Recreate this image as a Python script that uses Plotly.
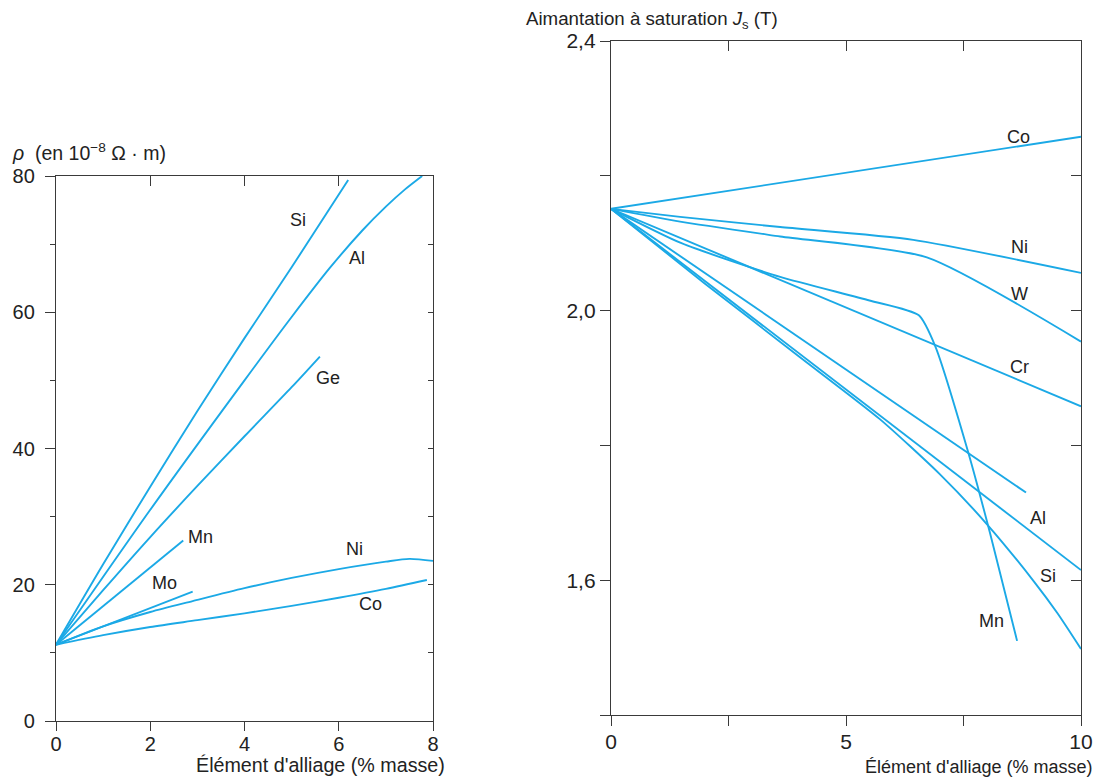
import plotly.graph_objects as go

# ---------------- Left chart: resistivity (1e-8 ohm.m) vs alloying element (% mass)
rho_si_x = [0, 1, 2, 3, 4, 5, 6.2]
rho_si_y = [11.2, 23, 34.4, 45.5, 56.2, 66.6, 79.4]
rho_al_x = [0, 2, 4, 5.0, 5.81, 6.5, 7.0, 7.4, 7.77]
rho_al_y = [11.2, 31, 50, 59.3, 66.5, 72, 75.5, 78, 80]
rho_ge_x = [0, 1, 2, 3, 4, 5, 5.6]
rho_ge_y = [11.2, 19.2, 27, 34.5, 41.8, 49, 53.5]
rho_mn_x = [0, 2.7]
rho_mn_y = [11.2, 26.5]
rho_mo_x = [0, 2.9]
rho_mo_y = [11.2, 19]
rho_ni_x = [0, 1, 2, 2.9, 4, 5, 6, 7, 7.5, 8.0]
rho_ni_y = [11.2, 13.9, 16.0, 17.6, 19.5, 21.0, 22.3, 23.4, 23.8, 23.5]
rho_co_x = [0, 1, 2, 3, 4, 5, 6, 7, 7.87]
rho_co_y = [11.2, 12.6, 13.8, 14.8, 15.8, 16.9, 18.1, 19.4, 20.7]

# ---------------- Right chart: saturation magnetisation Js (T)
js_co_x = [0, 10]
js_co_y = [2.151, 2.258]
js_ni_x = [0, 1.47, 3.6, 6.43, 10]
js_ni_y = [2.151, 2.139, 2.124, 2.105, 2.056]
js_w_x = [0, 1.47, 3.6, 6.72, 10]
js_w_y = [2.151, 2.132, 2.11, 2.079, 1.954]
js_cr_x = [0, 10]
js_cr_y = [2.151, 1.858]
js_mn_x = [0, 1.5, 3.6, 5.5, 6.55, 6.9, 7.6, 8.06, 8.64]
js_mn_y = [2.151, 2.10, 2.05, 2.015, 1.993, 1.947, 1.79, 1.671, 1.51]
js_unl_x = [0, 8.83]
js_unl_y = [2.151, 1.730]
js_al_x = [0, 10]
js_al_y = [2.151, 1.615]
js_si_x = [0, 2, 4, 5.72, 7, 8, 9, 9.5, 10]
js_si_y = [2.151, 2.04, 1.932, 1.839, 1.757, 1.683, 1.598, 1.551, 1.498]

# curve labels (text, x, y) in data units
left_labels = [("Si", 5.14, 73.5), ("Al", 6.39, 68.0), ("Ge", 5.77, 50.3), ("Mn", 3.06, 27.0),
               ("Mo", 2.31, 20.3), ("Ni", 6.34, 25.2), ("Co", 6.68, 17.2)]
right_labels = [("Co", 8.66, 2.258), ("Ni", 8.7, 2.095), ("W", 8.7, 2.024), ("Cr", 8.7, 1.916),
                ("Al", 9.08, 1.693), ("Si", 9.3, 1.606), ("Mn", 8.1, 1.539)]

LINE = "#1BA9E6"
AX = "#3a3a3a"
FONT = "Liberation Sans, Arial, sans-serif"
W, H = 1094, 771
OFF = 8  # page body margin


def px(xpix):
    return (xpix - OFF) / W


def py(ypix):
    return 1 - (ypix - OFF) / H


fig = go.Figure()

left_series = [
    (rho_si_x, rho_si_y, "Si"), (rho_al_x, rho_al_y, "Al"), (rho_ge_x, rho_ge_y, "Ge"),
    (rho_mn_x, rho_mn_y, "Mn"), (rho_mo_x, rho_mo_y, "Mo"), (rho_ni_x, rho_ni_y, "Ni"),
    (rho_co_x, rho_co_y, "Co"),
]
for xs, ys, nm in left_series:
    fig.add_trace(go.Scatter(x=xs, y=ys, mode="lines", name=nm, xaxis="x", yaxis="y",
                             line=dict(color=LINE, width=1.9, shape="spline", smoothing=0.8),
                             showlegend=False))

right_series = [
    (js_co_x, js_co_y, "Co", "linear"), (js_ni_x, js_ni_y, "Ni", "spline"),
    (js_w_x, js_w_y, "W", "spline"), (js_cr_x, js_cr_y, "Cr", "linear"),
    (js_mn_x, js_mn_y, "Mn", "spline"), (js_unl_x, js_unl_y, "", "linear"),
    (js_al_x, js_al_y, "Al", "linear"), (js_si_x, js_si_y, "Si", "spline"),
]
for xs, ys, nm, shp in right_series:
    fig.add_trace(go.Scatter(x=xs, y=ys, mode="lines", name=nm, xaxis="x2", yaxis="y2",
                             line=dict(color=LINE, width=1.9, shape=shp,
                                       **({"smoothing": 0.6} if shp == "spline" else {})),
                             showlegend=False))

# invisible traces to anchor the mirror axes
fig.add_trace(go.Scatter(x=[None], y=[None], xaxis="x3", yaxis="y3", showlegend=False))
fig.add_trace(go.Scatter(x=[None], y=[None], xaxis="x4", yaxis="y4", showlegend=False))

L_dom_x = [px(56), px(433)]
L_dom_y = [py(721), py(176)]
R_dom_x = [px(611), px(1081)]
R_dom_y = [py(715), py(41)]

tickL = dict(family=FONT, size=20, color="#222")
tickR = dict(family=FONT, size=21, color="#222")
common = dict(showgrid=False, zeroline=False, showline=True, linecolor=AX, linewidth=1.3,
              tickcolor=AX, tickwidth=1.3, automargin=False)

fig.update_layout(
    width=W, height=H, margin=dict(l=0, r=0, t=0, b=0),
    paper_bgcolor="white", plot_bgcolor="white",
    xaxis=dict(domain=L_dom_x, range=[0, 8], anchor="y", ticks="outside", ticklen=9,
               tickvals=[0, 2, 4, 6, 8], tickfont=tickL, ticklabelstandoff=-4, **common),
    yaxis=dict(domain=L_dom_y, range=[0, 80], anchor="x", ticks="outside", ticklen=10,
               tickvals=[0, 20, 40, 60, 80], tickfont=tickL, ticklabelstandoff=6,
               minor=dict(tickvals=[10, 30, 50, 70], ticks="outside", ticklen=5,
                          tickcolor=AX, tickwidth=1.3), **common),
    xaxis3=dict(domain=L_dom_x, range=[0, 8], anchor="y3", overlaying="x", side="top",
                ticks="inside", ticklen=10, tickvals=[2, 4, 6], showticklabels=False, **common),
    yaxis3=dict(domain=L_dom_y, range=[0, 80], anchor="x3", overlaying="y", side="right",
                ticks="inside", ticklen=5, tickvals=[10, 20, 30, 40, 50, 60, 70],
                showticklabels=False, **common),
    xaxis2=dict(domain=R_dom_x, range=[0, 10], anchor="y2", ticks="outside", ticklen=10,
                tickvals=[0, 2.5, 5, 7.5, 10], ticktext=["0", "", "5", "", "10"],
                tickfont=tickR, ticklabelstandoff=-2, **common),
    yaxis2=dict(domain=R_dom_y, range=[1.4, 2.4], anchor="x2", ticks="outside", ticklen=10,
                tickvals=[1.4, 1.6, 1.8, 2.0, 2.2, 2.4],
                ticktext=["", "1,6", "", "2,0", "", "2,4"],
                tickfont=tickR, ticklabelstandoff=0, **common),
    xaxis4=dict(domain=R_dom_x, range=[0, 10], anchor="y4", overlaying="x2", side="top",
                ticks="inside", ticklen=10, tickvals=[2.5, 5, 7.5], showticklabels=False, **common),
    yaxis4=dict(domain=R_dom_y, range=[1.4, 2.4], anchor="x4", overlaying="y2", side="right",
                ticks="inside", ticklen=10, tickvals=[1.6, 1.8, 2.0, 2.2],
                showticklabels=False, **common),
)

lab = dict(family=FONT, size=18, color="#222")
ann = []
for t, x, y in left_labels:
    ann.append(dict(text=t, x=x, y=y, xref="x", yref="y", showarrow=False, font=lab))
for t, x, y in right_labels:
    ann.append(dict(text=t, x=x, y=y, xref="x2", yref="y2", showarrow=False, font=lab))

ann += [
    dict(text="<i>ρ</i>  (en 10<sup>−8</sup> Ω · m)", x=px(10), y=py(152), xref="paper",
         yref="paper", xanchor="left", yanchor="middle", showarrow=False,
         font=dict(family=FONT, size=19.5, color="#222")),
    dict(text="Aimantation à saturation <i>J</i><sub>s</sub> (T)", x=px(524), y=py(20),
         xref="paper", yref="paper", xanchor="left", yanchor="middle", showarrow=False,
         font=dict(family=FONT, size=18.7, color="#222")),
    dict(text="Élément d'alliage (% masse)", x=px(447), y=py(765), xref="paper",
         yref="paper", xanchor="right", yanchor="middle", showarrow=False,
         font=dict(family=FONT, size=19.7, color="#222")),
    dict(text="Élément d'alliage (% masse)", x=px(1095), y=py(767), xref="paper",
         yref="paper", xanchor="right", yanchor="middle", showarrow=False,
         font=dict(family=FONT, size=18, color="#222")),
]
fig.update_layout(annotations=ann)

fig.write_html("out.html")
